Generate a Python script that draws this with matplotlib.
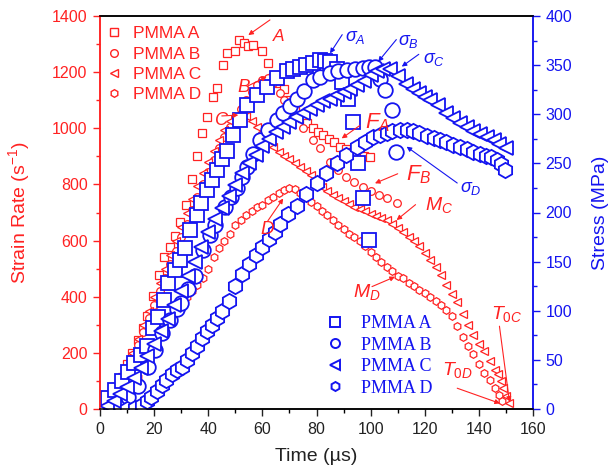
import matplotlib
matplotlib.use("Agg")
import matplotlib.pyplot as plt
from matplotlib.ticker import MultipleLocator
from matplotlib.lines import Line2D

plt.rcParams['font.family'] = ['Liberation Sans', 'DejaVu Sans']
plt.rcParams['mathtext.fontset'] = 'custom'
plt.rcParams['mathtext.it'] = 'Liberation Sans:italic'
plt.rcParams['mathtext.rm'] = 'Liberation Sans'
plt.rcParams['mathtext.bf'] = 'Liberation Sans:bold'

RED = '#ff2222'
BLUE = '#1414f0'

labels = ['PMMA A', 'PMMA B', 'PMMA C', 'PMMA D']

# strain rate (s^-1), left axis
t_sr_a = [0, 2, 4, 6, 8, 10, 12, 14, 15.8, 17.5, 19.5, 21.7, 23.7, 25.9, 27.7, 29.6, 31.8,
          33.9, 35.7, 37.6, 39.7, 41.6, 43.4, 45.3, 46.8, 49.9, 51.5, 53.2, 54.8, 56.7, 60,
          62.2, 64, 66, 68, 70, 72, 74.5, 76.5, 78.8, 80.5, 82.5, 84.5, 86.5, 88.7, 91, 93,
          95, 97.5, 99.8]
sr_a = [0, 15, 40, 75, 115, 160, 200, 245, 290, 332, 402, 477, 541, 578, 616, 667, 727,
        819, 901, 983, 1040, 1111, 1143, 1225, 1268, 1276, 1314, 1305, 1293, 1296, 1276,
        1231, 1183, 1160, 1140, 1100, 1065, 1036, 1018, 1000, 988, 976, 962, 950, 934, 925, 915,
        908, 902, 899]

t_sr_b = [0, 2, 4, 6, 8, 10, 12, 14, 16, 18, 20, 22, 24, 26, 28, 30, 32, 34, 36, 38, 40,
          42, 44, 46, 48, 50, 52, 54, 56, 58, 60, 62, 64, 66.5, 68, 70, 72, 75, 78.8, 81.3,
          85, 88, 91, 94, 97, 100, 103, 106, 109.6]
sr_b = [0, 10, 28, 55, 92, 135, 180, 228, 276, 325, 372, 420, 468, 516, 564, 612, 660, 708,
        755, 800, 845, 888, 930, 968, 1005, 1040, 1070, 1100, 1130, 1155, 1172, 1180, 1160,
        1125, 1100, 1070, 1040, 1000, 958, 929, 880, 850, 827, 810, 792, 778, 762, 750, 733]

t_sr_c = [0, 2, 4, 6, 8, 10, 12, 14, 16, 18, 20, 22, 24, 26, 28, 30, 32, 34, 36, 38, 40,
          42, 44, 46, 48, 50, 52, 54, 56, 58, 60, 62, 64, 66, 68, 70, 72, 74, 76, 78, 80,
          82, 84, 86, 88, 90, 92, 94, 96, 98, 100, 102, 104, 106, 108, 110, 112, 114, 116,
          118, 120, 122, 124, 126, 128, 130, 132, 134, 136, 138, 140, 142, 144, 146, 147,
          148, 149, 150, 151]
sr_c = [0, 12, 35, 65, 105, 150, 200, 250, 300, 350, 400, 450, 500, 550, 600, 650, 700, 748,
        795, 840, 880, 920, 960, 995, 1025, 1045, 1055, 1045, 1025, 1006, 985, 960, 935, 917,
        903, 890, 876, 862, 848, 834, 810, 792, 776, 764, 752, 740, 730, 721, 712, 704, 696,
        688, 680, 672, 660, 645, 630, 612, 598, 580, 557, 532, 507, 478, 440, 410, 380, 340,
        300, 262, 232, 205, 170, 140, 125, 100, 75, 48, 22]

t_sr_d = [4, 6, 8, 10, 12, 14, 16, 18, 20, 22, 24, 26, 28, 30, 32, 34, 36, 38, 40, 42, 44,
          46, 48, 50, 52, 54, 56, 58, 60, 62, 64, 66, 68, 70, 72, 74, 76, 78, 80, 82, 84, 86,
          88, 90, 92, 94, 96, 98, 100, 102, 104, 106, 108, 110, 112, 114, 116, 118, 120, 122,
          124, 126, 128, 130, 132, 134, 136, 138, 140, 142, 144, 146, 147.5, 148.5]
sr_d = [0, 10, 30, 55, 85, 115, 150, 185, 220, 255, 290, 320, 350, 375, 400, 420, 440, 465,
        500, 540, 575, 600, 625, 655, 675, 690, 705, 718, 728, 745, 756, 770, 780, 786, 782,
        770, 755, 738, 722, 705, 690, 672, 655, 640, 625, 612, 600, 580, 560, 540, 525, 505,
        490, 475, 465, 450, 438, 425, 412, 400, 385, 370, 352, 330, 295, 255, 225, 195, 160,
        130, 103, 75, 50, 30]

# stress (MPa), right axis
t_st_a = [0.5, 3.1, 5.5, 8, 10.5, 12.5, 15, 17.5, 19.7, 21.5, 23.5, 25.2, 27.7, 29.5, 31.4,
          33.3, 35.7, 37.5, 39.4, 41.3, 43.1, 45, 46.8, 49.3, 51.7, 54.2, 57.9, 61.6, 65.3,
          69, 71.4, 73.9, 76.3, 78.8, 81.3, 83.2, 85, 87.5, 89.6, 91.8, 93.6, 95.5, 97.3, 99.5]
st_a = [2, 11, 19, 28, 38, 47, 55, 64, 82, 94, 111, 128, 141, 152, 164, 182, 197, 210, 223,
        233, 243, 254, 263, 279, 294, 309, 320, 328, 337, 344, 346, 348, 350, 352, 355, 354,
        353, 346, 333, 316, 292, 250, 215, 172]

t_st_b = [4, 7, 10.5, 14.2, 17.9, 20.3, 22.8, 25.9, 28.5, 30, 32.5, 35.1, 38.2, 40.5, 42.5,
          46.2, 48.5, 50.5, 52.5, 54.2, 56.5, 59.1, 62, 65.3, 67.7, 70.2, 72.7, 75.2, 78.8,
          81.3, 85, 88, 91.2, 94.3, 97.3, 99.5, 101.6, 103.5, 105.3, 107.8, 109.4]
st_b = [0, 5, 12.5, 23, 43, 60, 77, 91, 102, 108, 122, 135, 162, 177, 187, 206, 216, 225,
        236, 246, 260, 274, 284, 294, 301, 308, 316, 324, 335, 338, 342, 344, 345, 346, 347,
        348, 348, 336, 325, 304, 262]

t_st_c = [2.5, 5, 7.5, 10, 12.5, 15, 17.5, 20, 22.5, 25, 27.5, 30, 32.5, 35, 37.5, 40, 42.5,
          45, 47.5, 50, 52.5, 55, 57.5, 60, 62.5, 65, 67.5, 70, 72.5, 75, 77.5, 80, 82.5, 85,
          87.5, 90, 92.5, 95, 97.5, 100, 102.5, 104.5, 107, 110, 113, 115.5, 118, 120, 122,
          125, 128, 130.5, 133, 135.5, 138, 140.5, 143, 145.5, 147.5, 150]
st_c = [3, 8, 15, 22, 32, 42, 54, 66, 79, 92, 106, 120, 135, 150, 165, 180, 193, 205, 217,
        228, 240, 250, 259, 268, 275, 282, 287, 292, 297, 301, 305, 309, 313, 316, 320, 323,
        326, 330, 334, 340, 344, 346, 346, 339, 331, 326, 322, 318, 315, 309, 301, 296, 291,
        287, 283, 280, 277, 274, 270, 266]

t_st_d = [10, 13, 15.5, 17.5, 19, 21, 22.8, 24.5, 26.5, 28.5, 30.2, 32, 33.9, 35.8, 37.6,
          39.5, 41.3, 43.2, 45, 47.5, 50, 52.5, 55, 57.5, 60, 62.5, 64.5, 66.5, 69.5, 72.7, 76,
          80, 83.5, 87.5, 91, 94.8, 98, 101, 103.5, 106, 108, 110.9, 113.3, 115.8, 118, 121,
          123.5, 125.6, 128, 130.5, 133, 135.5, 138, 140.4, 142.5, 144.5, 146.6, 148.2, 149.7]
st_d = [0, 1, 4, 8, 12.5, 18, 24, 30, 36, 40, 43, 50, 57, 64, 72, 79, 85, 93, 100, 110, 125,
        137, 148, 157, 165, 173, 180, 188, 198, 207, 219, 230, 240, 250, 259, 267, 272, 277,
        279, 281, 283, 284, 284, 283, 281, 278, 276, 274, 272, 269, 267, 265, 262, 260, 258,
        256, 253.5, 249, 243]

sr_markers = ['s', 'o', '<', 'h']
st_markers = ['s', 'o', '<', 'h']

fig = plt.figure(figsize=(6.12, 4.74), dpi=100)
ax = fig.add_axes([100 / 612, 65 / 474, 433 / 612, 393 / 474])
ax2 = ax.twinx()

sr_t = [t_sr_a, t_sr_b, t_sr_c, t_sr_d]
sr_v = [sr_a, sr_b, sr_c, sr_d]
for tt, vv, mk in zip(sr_t, sr_v, sr_markers):
    ax.plot(tt, vv, linestyle='none', marker=mk, ms=5.5, mfc='white', mec=RED, mew=0.9)

st_t = [t_st_a, t_st_b, t_st_c, t_st_d]
st_v = [st_a, st_b, st_c, st_d]
st_ms = [9.5, 10.5, 10.5, 11]
for tt, vv, mk, ms in zip(st_t, st_v, st_markers, st_ms):
    ax2.plot(tt, vv, linestyle='none', marker=mk, ms=ms, mfc='white', mec=BLUE, mew=1.3)

ax.set_xlim(0, 160)
ax.set_ylim(0, 1400)
ax2.set_ylim(0, 400)

ax.xaxis.set_major_locator(MultipleLocator(20))
ax.xaxis.set_minor_locator(MultipleLocator(10))
ax.yaxis.set_major_locator(MultipleLocator(200))
ax.yaxis.set_minor_locator(MultipleLocator(100))
ax2.yaxis.set_major_locator(MultipleLocator(50))
ax2.yaxis.set_minor_locator(MultipleLocator(25))

for a in (ax, ax2):
    for s in a.spines.values():
        s.set_linewidth(1.1)
ax2.spines['left'].set_color(RED)
ax2.spines['right'].set_color(BLUE)
ax.spines['left'].set_color(RED)
ax.spines['right'].set_color(BLUE)

ax.tick_params(axis='x', which='major', direction='out', length=5, width=1.0,
               labelsize=11.5, colors='#222222', pad=4)
ax.tick_params(axis='x', which='minor', direction='out', length=3, width=1.0)
ax.tick_params(axis='y', which='major', direction='out', length=5, width=1.0,
               labelsize=11.5, colors=RED, pad=4)
ax.tick_params(axis='y', which='minor', direction='out', length=3, width=1.0, colors=RED)
ax2.tick_params(axis='y', which='major', direction='out', length=5, width=1.0,
                labelsize=11.5, colors=BLUE, pad=4)
ax2.tick_params(axis='y', which='minor', direction='out', length=3, width=1.0, colors=BLUE)

ax.set_xlabel('Time (µs)', fontsize=14, color='#222222', labelpad=8)
ax.set_ylabel('Strain Rate (s$^{-1}$)', fontsize=14, color=RED, labelpad=14)
ax2.set_ylabel('Stress (MPa)', fontsize=14, color=BLUE, labelpad=14)

# legends
red_handles = [Line2D([], [], linestyle='none', marker=m, ms=5.5, mfc='white', mec=RED,
                      mew=1.0) for m in sr_markers]
leg1 = ax2.legend(red_handles, labels, loc='upper left', bbox_to_anchor=(-0.015, 1.005),
                  frameon=False, fontsize=12.5, labelcolor=RED, handlelength=1.0,
                  handletextpad=0.6, labelspacing=0.3, borderaxespad=0.3)
ax2.add_artist(leg1)
blue_handles = [Line2D([], [], linestyle='none', marker=m, ms=6.5, mfc='white', mec=BLUE,
                       mew=1.4) for m in st_markers]
ax2.legend(blue_handles, labels, loc='lower left', bbox_to_anchor=(0.485, -0.01),
           frameon=False, prop={'family': 'Liberation Serif', 'size': 13},
           labelcolor=BLUE, handlelength=1.0, handletextpad=0.9, labelspacing=0.25)

# annotations: (text, text pos, arrow tail, arrow head) in strain-rate or stress units
red_notes = [
    ('$A$', (63.5, 1310), (62.8, 1386), (54.8, 1332), 12.5),
    ('$B$', (50.5, 1130), (54.5, 1150), (61.6, 1184), 13.5),
    ('$C$', (42.0, 1010), (45.0, 1044), (51.1, 1047), 13),
    ('$D$', (59.0, 625), (62.0, 670), (67.7, 750), 13.5),
    ('$F_A$', (98.0, 1000), (96.0, 1010), (89.3, 964), 16),
    ('$F_B$', (113.0, 815), (110.0, 838), (101.6, 804), 16),
    ('$M_C$', (120.0, 710), (116.6, 728), (109.6, 673), 14),
    ('$M_D$', (93.5, 400), (100.5, 436), (109.0, 471), 14),
    (r'$T_{\mathit{0C}}$', (144.5, 322), (147.6, 295), (151.3, 26), 14),
    (r'$T_{\mathit{0D}}$', (126.5, 120), (132.0, 74), (147.8, 20), 14),
]
for txt, pos, tail, head, fs in red_notes:
    ax2.text(pos[0], pos[1], txt, transform=ax.transData, color=RED, fontsize=fs,
             ha='left', va='baseline')
    ax2.annotate('', xy=head, xytext=tail, xycoords=ax.transData, textcoords=ax.transData,
                 arrowprops=dict(arrowstyle='-|>', color=RED, lw=0.8, mutation_scale=7,
                                 shrinkA=0, shrinkB=0))

blue_notes = [
    (r'$\sigma_A$', (90.5, 375), (89.5, 381), (85.0, 362)),
    (r'$\sigma_B$', (110.0, 370), (109.5, 376), (102.8, 353.5)),
    (r'$\sigma_C$', (119.5, 352), (117.8, 361), (111.5, 348.5)),
    (r'$\sigma_D$', (133.0, 221), (132.0, 230), (113.3, 267)),
]
for txt, pos, tail, head in blue_notes:
    ax2.text(pos[0], pos[1], txt, color=BLUE, fontsize=13, ha='left', va='baseline')
    ax2.annotate('', xy=head, xytext=tail,
                 arrowprops=dict(arrowstyle='-|>', color=BLUE, lw=0.8, mutation_scale=7,
                                 shrinkA=0, shrinkB=0))

fig.savefig('out.png', dpi=100)
